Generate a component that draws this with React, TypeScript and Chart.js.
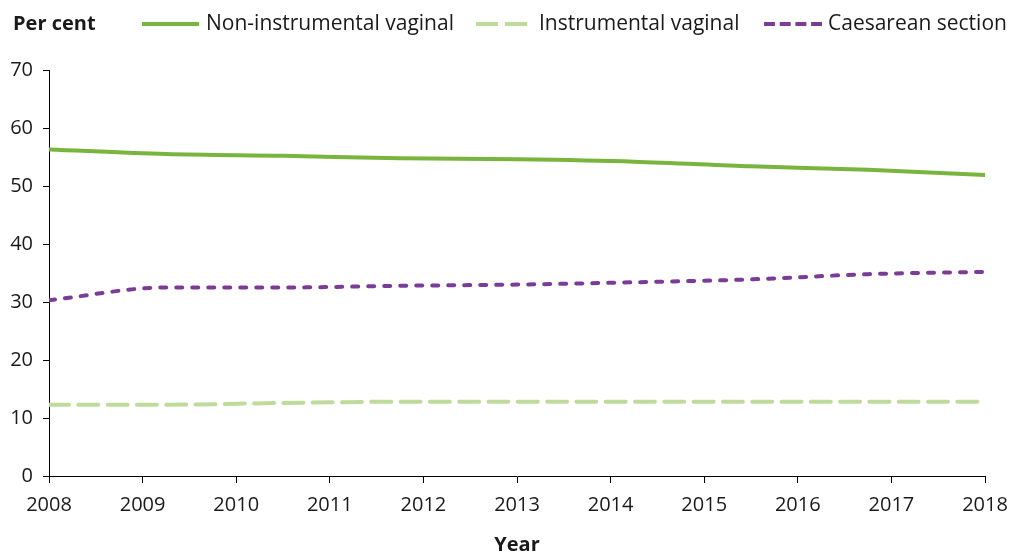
import React, { useEffect, useRef } from "react";
import { Chart, registerables } from "chart.js";

Chart.register(...registerables);

// Axis tick labels (years)
const yearTicks = [2008, 2009, 2010, 2011, 2012, 2013, 2014, 2015, 2016, 2017, 2018];
// x positions of the plotted observations on the year axis
const pointYears = [2008, 2009.25, 2010.5, 2011.75, 2013, 2014.25, 2015.5, 2016.75, 2018];

const nonInstrumental = [56.3, 55.5, 55.2, 54.8, 54.6, 54.2, 53.4, 52.8, 51.9];
const instrumental = [12.3, 12.3, 12.6, 12.8, 12.8, 12.8, 12.8, 12.8, 12.8];
const caesarean = [30.3, 32.5, 32.5, 32.8, 33.0, 33.4, 33.9, 34.8, 35.2];

const seriesNames = ["Non-instrumental vaginal", "Instrumental vaginal", "Caesarean section"];

const GREEN = "#79B53E";
const LIGHT_GREEN = "#BFDB9C";
const PURPLE = "#7C3B96";
const TEXT = "#1a1a1a";
const FONT = '"Open Sans", "Noto Sans", sans-serif';

const toPoints = (vals: number[]) => vals.map((v, i) => ({ x: pointYears[i], y: v }));

const legendPlugin = {
  id: "customLegend",
  afterDraw(chart: any) {
    const ctx = chart.ctx;
    ctx.save();
    ctx.textBaseline = "middle";
    ctx.fillStyle = TEXT;
    ctx.font = `bold 20px ${FONT}`;
    ctx.fillText("Per cent", 13, 24);
    const items = [
      { x0: 142, x1: 199, dash: [], color: GREEN, w: 4, tx: 206 },
      { x0: 476, x1: 527, dash: [22, 7], color: LIGHT_GREEN, w: 4, tx: 539 },
      { x0: 764, x1: 822, dash: [11, 4.7], color: PURPLE, w: 4, tx: 828 },
    ];
    items.forEach((it, i) => {
      ctx.beginPath();
      ctx.setLineDash(it.dash);
      ctx.lineCap = "butt";
      ctx.strokeStyle = it.color;
      ctx.lineWidth = it.w;
      ctx.moveTo(it.x0, 24);
      ctx.lineTo(it.x1, 24);
      ctx.stroke();
      ctx.setLineDash([]);
      ctx.font = `21px ${FONT}`;
      ctx.fillStyle = TEXT;
      ctx.fillText(seriesNames[i], it.tx, 24);
    });
    ctx.restore();
  },
};

export default function App() {
  const ref = useRef<HTMLCanvasElement>(null);
  useEffect(() => {
    if (!ref.current) return;
    const chart = new Chart(ref.current, {
      type: "line",
      data: {
        datasets: [
          {
            label: seriesNames[0],
            data: toPoints(nonInstrumental),
            borderColor: GREEN,
            borderWidth: 4,
            pointRadius: 0,
            cubicInterpolationMode: "monotone",
            borderCapStyle: "round",
          },
          {
            label: seriesNames[1],
            data: toPoints(instrumental),
            borderColor: LIGHT_GREEN,
            borderWidth: 4,
            borderDash: [20, 9.3],
            borderCapStyle: "round",
            pointRadius: 0,
            cubicInterpolationMode: "monotone",
          },
          {
            label: seriesNames[2],
            data: toPoints(caesarean),
            borderColor: PURPLE,
            borderWidth: 4,
            borderDash: [6, 10],
            borderCapStyle: "round",
            pointRadius: 0,
            cubicInterpolationMode: "monotone",
          },
        ],
      },
      options: {
        responsive: false,
        animation: false,
        layout: { padding: { top: 70, right: 30, bottom: 0, left: 0 } },
        plugins: { legend: { display: false }, tooltip: { enabled: false } },
        scales: {
          x: {
            type: "linear",
            min: yearTicks[0],
            max: yearTicks[yearTicks.length - 1],
            afterBuildTicks: (scale: any) => {
              scale.ticks = yearTicks.map((v) => ({ value: v }));
            },
            afterFit: (scale: any) => {
              scale.height = 77;
              scale.paddingLeft = 0;
              scale.paddingRight = 0;
            },
            ticks: {
              color: TEXT,
              font: { family: FONT, size: 20 },
              padding: 10,
              maxRotation: 0,
              autoSkip: false,
              callback: (v: any) => String(v),
            },
            grid: { drawOnChartArea: false, drawTicks: true, tickLength: 7, color: "#000", lineWidth: 1 },
            border: { display: true, color: "#000", width: 1 },
            title: {
              display: true,
              text: "Year",
              color: TEXT,
              font: { family: FONT, size: 20, weight: "bold" },
              padding: { top: 0, bottom: -4 },
            },
          },
          y: {
            min: 0,
            max: 70,
            afterFit: (scale: any) => {
              scale.width = 49;
              scale.paddingTop = 0;
              scale.paddingBottom = 0;
            },
            ticks: {
              stepSize: 10,
              color: TEXT,
              font: { family: FONT, size: 20 },
              padding: 10,
            },
            grid: { drawOnChartArea: false, drawTicks: true, tickLength: 6, color: "#000", lineWidth: 1 },
            border: { display: true, color: "#000", width: 1 },
          },
        },
      },
      plugins: [legendPlugin],
    } as any);
    return () => chart.destroy();
  }, []);
  return (
    <div style={{ position: "fixed", left: 0, top: 0, width: 1015, height: 553, background: "#fff" }}>
      <canvas ref={ref} width={1015} height={553} />
    </div>
  );
}
